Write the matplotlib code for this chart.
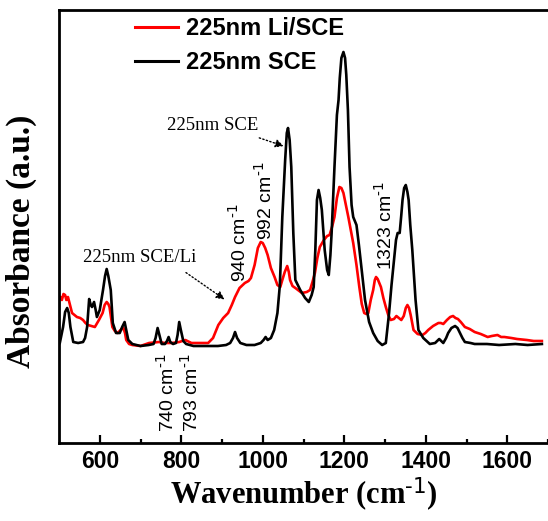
import matplotlib
matplotlib.use("Agg")
import matplotlib.pyplot as plt

plt.rcParams['mathtext.default'] = 'regular'

# ---- data (wavenumber in cm^-1, absorbance in arbitrary units) ----
wn_sce = [502, 506, 510, 515, 520, 524, 528, 535, 547, 559, 564, 569, 574, 578, 581, 586, 590, 593,
          600, 608, 613, 617, 621, 627, 632, 640, 649, 655, 661, 665, 670, 680, 700, 720, 732, 737,
          742, 747, 752, 760, 765, 769, 773, 780, 787, 791, 795, 799, 805, 812, 830, 860, 890, 910,
          920, 927, 932, 937, 945, 960, 980, 995, 1002, 1007, 1012, 1020, 1028, 1036, 1042, 1048,
          1055, 1059, 1062, 1066, 1070, 1075, 1080, 1092, 1104, 1113, 1120, 1125, 1129, 1133, 1137,
          1141, 1145, 1152, 1158, 1162, 1166, 1169, 1176, 1182, 1186, 1189, 1193, 1198, 1202, 1205,
          1209, 1213, 1218, 1222, 1230, 1236, 1242, 1251, 1261, 1271, 1282, 1293, 1302, 1310, 1316,
          1322, 1327, 1331, 1336, 1340, 1343, 1347, 1351, 1355, 1358, 1362, 1367, 1375, 1382, 1394,
          1410, 1423, 1433, 1443, 1450, 1455, 1463, 1472, 1478, 1484, 1490, 1496, 1510, 1520, 1550,
          1580, 1620, 1650, 1685]
abs_sce = [100, 108, 116, 131, 135, 130, 116, 101, 100, 101, 105, 116, 144, 138, 136, 141, 133, 126,
           133, 153, 167, 174, 167, 153, 120, 110, 110, 116, 121, 113, 103, 99, 97, 98, 99, 105,
           115, 107, 99, 99, 102, 106, 101, 99, 100, 108, 121, 113, 102, 99, 97, 97, 97, 98,
           100, 105, 111, 105, 100, 98, 98, 100, 103, 106, 103, 105, 113, 130, 158, 226,
           283, 310, 315, 303, 276, 210, 163, 153, 145, 141, 148, 156, 193, 243, 253,
           245, 233, 193, 173, 168, 188, 210, 276, 328, 343, 365, 385, 391, 385, 368,
           333, 276, 238, 226, 218, 198, 176, 143, 121, 110, 102, 98, 100, 130, 158,
           183, 203, 210, 210, 228, 243, 255, 258, 251, 243, 218, 193, 143, 113, 105,
           99, 100, 104, 100, 105, 110, 115, 117, 115, 110, 105, 101, 100, 99, 99,
           98, 99, 98, 99]

wn_li = [500, 503, 507, 511, 515, 518, 522, 527, 532, 538, 544, 552, 559, 565, 571, 580, 588, 598,
         607, 612, 617, 621, 624, 628, 631, 637, 644, 651, 658, 662, 665, 672, 680, 700, 721, 745,
         760, 777, 795, 810, 825, 842, 866, 878, 891, 903, 915, 924, 932, 943, 956, 965, 971, 980,
         988, 995, 1000, 1006, 1012, 1020, 1029, 1036, 1043, 1048, 1054, 1060, 1064, 1067, 1073,
         1080, 1096, 1108, 1116, 1122, 1128, 1134, 1140, 1150, 1158, 1164, 1170, 1176, 1182, 1188,
         1193, 1198, 1204, 1210, 1216, 1222, 1230, 1237, 1243, 1249, 1254, 1259, 1265, 1271, 1275,
         1278, 1282, 1286, 1290, 1296, 1302, 1308, 1314, 1322, 1328, 1334, 1340, 1346, 1351, 1355,
         1359, 1363, 1370, 1380, 1392, 1399, 1406, 1418, 1431, 1437, 1443, 1452, 1460, 1467, 1473,
         1479, 1486, 1496, 1508, 1520, 1535, 1552, 1562, 1576, 1585, 1593, 1610, 1624, 1648, 1665,
         1685]
abs_li = [146, 146, 143, 149, 148, 143, 146, 138, 130, 128, 126, 125, 123, 120, 118, 117, 116, 123,
          130, 138, 141, 139, 136, 125, 116, 112, 110, 113, 115, 110, 103, 99, 98, 97, 100, 101,
          100, 100, 101, 103, 100, 100, 100, 105, 118, 125, 130, 138, 146, 155, 160, 162, 165, 178,
          195, 201, 200, 195, 188, 175, 166, 158, 156, 163, 171, 177, 171, 163, 157,
          155, 150, 151, 153, 161, 170, 185, 196, 203, 207, 208, 216, 226, 245, 256,
          255, 250, 238, 226, 213, 200, 178, 156, 139, 130, 129, 130, 143, 153, 163,
          166, 164, 160, 156, 145, 136, 128, 123, 124, 127, 125, 123, 127, 135, 138,
          135, 128, 113, 109, 108, 110, 113, 117, 120, 120, 119, 123, 126, 127, 125,
          124, 121, 116, 114, 111, 109, 106, 107, 108, 106, 106, 105, 104, 103, 102,
          102]

series_labels = ["225nm Li/SCE", "225nm SCE"]
xticks = [600, 800, 1000, 1200, 1400, 1600]

# ---- figure ----
fig = plt.figure(figsize=(5.48, 5.21), dpi=100)
ax = fig.add_axes([59/548, 78/521, 1 - 59/548, 433/521])

ax.plot(wn_li, abs_li, color='#ff0000', lw=1.9, label=series_labels[0])
ax.plot(wn_sce, abs_sce, color='black', lw=1.9, label=series_labels[1])

ax.set_xlim(500, 1685)
ax.set_ylim(0, 433)
ax.set_yticks([])
ax.set_xticks(xticks)
ax.set_xticks([700, 900, 1100, 1300, 1500, 1700], minor=True)
ax.tick_params(axis='x', which='major', direction='in', length=6, width=1.6, pad=5,
               top=False, labelsize=16.5)
ax.tick_params(axis='x', which='minor', direction='in', length=3, width=1.6, top=False)
for lab in ax.get_xticklabels():
    lab.set_fontfamily('Liberation Sans')
    lab.set_fontweight('bold')

for side in ['left', 'bottom', 'top']:
    ax.spines[side].set_linewidth(2)
ax.spines['right'].set_visible(False)

ax.set_xlabel(r'Wavenumber (cm$^{\text{-1}}$)', fontfamily='Liberation Serif', fontweight='bold',
              fontsize=22, labelpad=2)
ax.set_ylabel('Absorbance (a.u.)', fontfamily='Liberation Serif', fontweight='bold',
              fontsize=24)
ax.yaxis.set_label_coords(-0.045, 0.466)

leg = ax.legend(loc='upper left', bbox_to_anchor=(135/548, 1 - 17/521),
                bbox_transform=fig.transFigure, frameon=False, borderpad=0,
                borderaxespad=0, handlelength=1.8, handletextpad=0.35, labelspacing=0.47,
                prop={'family': 'Liberation Sans', 'weight': 'bold', 'size': 17})
for h in leg.get_lines():
    h.set_linewidth(2.2)

# annotations
serif = dict(fontfamily='Liberation Serif', fontsize=13.5)
ax.annotate('', xy=(1058, 296), xytext=(985, 306),
            arrowprops=dict(arrowstyle='-|>', linestyle=':', color='black', lw=1,
                            mutation_scale=12))
ax.text(876, 318, '225nm SCE', ha='center', va='center', **serif)
ax.annotate('', xy=(912, 142), xytext=(806, 172),
            arrowprops=dict(arrowstyle='-|>', linestyle=':', color='black', lw=1,
                            mutation_scale=12))
ax.text(697, 185, '225nm SCE/Li', ha='center', va='center', **serif)

sans = dict(fontfamily='Liberation Sans', fontsize=14, rotation=90, ha='center', va='bottom')
ax.text(943, 161, r'940 cm$^{\text{-1}}$', **sans)
ax.text(1007, 203, r'992 cm$^{\text{-1}}$', **sans)
ax.text(1300, 173, r'1323 cm$^{\text{-1}}$', **sans)
ax.text(766, 11, r'740 cm$^{\text{-1}}$', **sans)
ax.text(824, 11, r'793 cm$^{\text{-1}}$', **sans)

fig.savefig('out.png', dpi=100)
